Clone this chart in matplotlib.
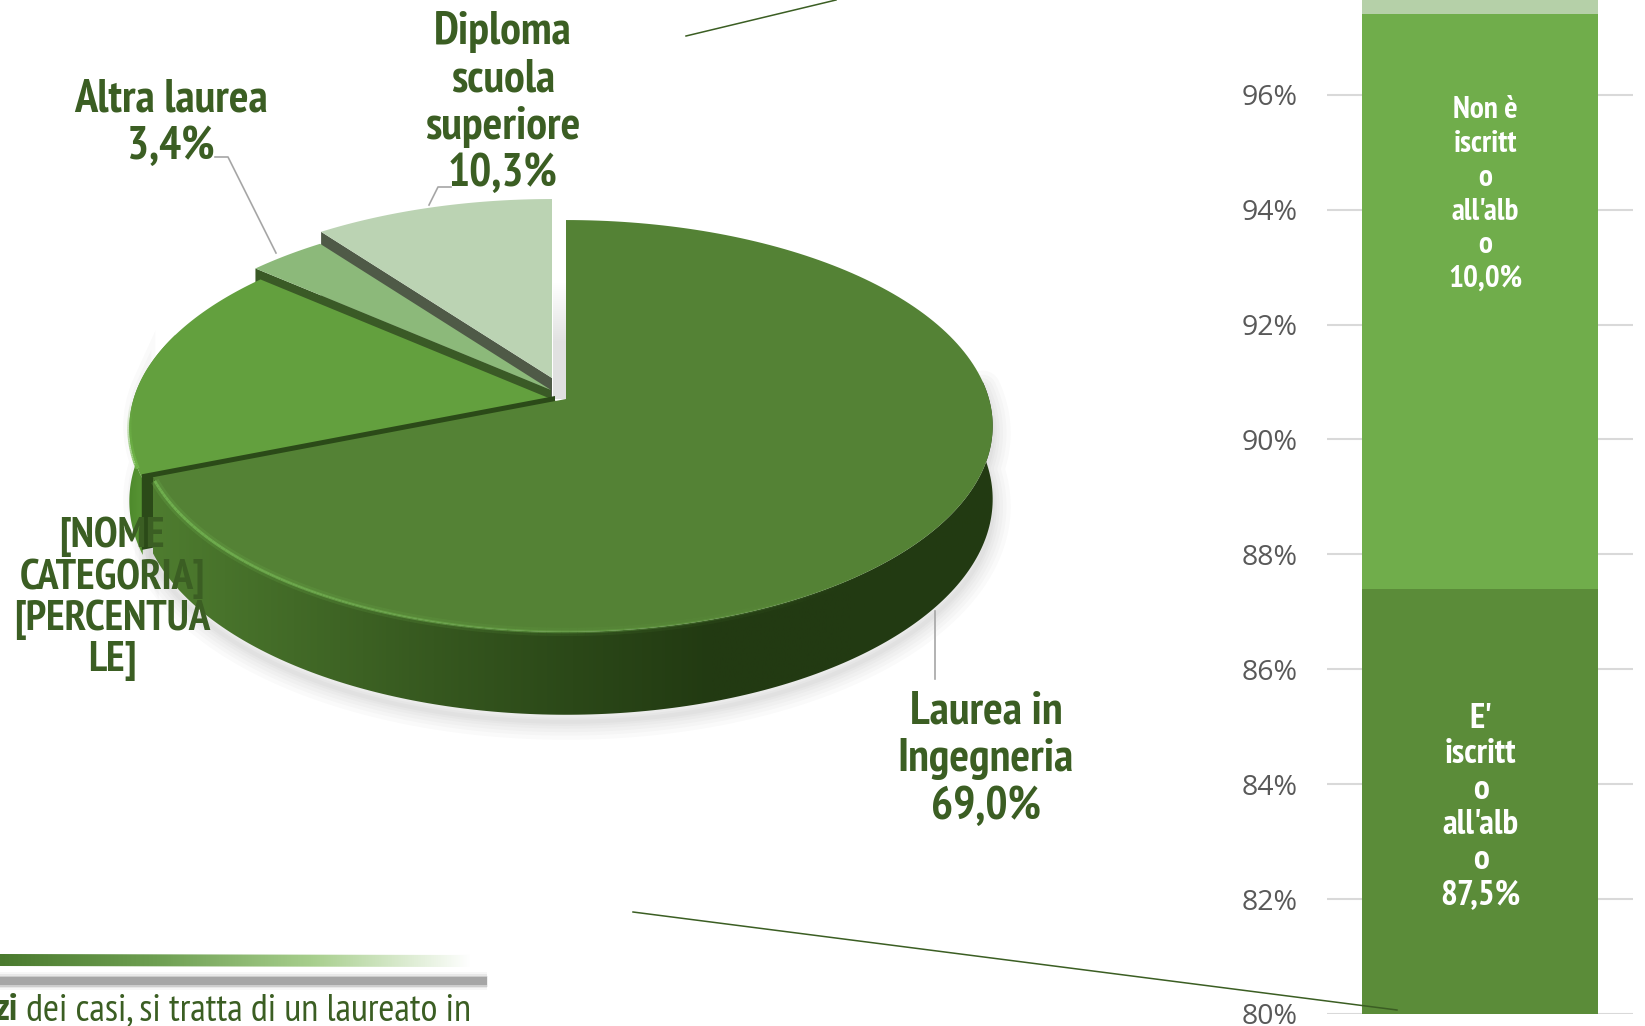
import numpy as np
import matplotlib
matplotlib.use('Agg')
import matplotlib.pyplot as plt
from matplotlib.colors import LinearSegmentedColormap
from matplotlib.patches import Polygon
from matplotlib.collections import LineCollection

# pie data, clockwise from 12 o'clock
pie_names = ['Laurea in\nIngegneria', '[NOME\nCATEGORIA]', 'Altra laurea', 'Diploma\nscuola\nsuperiore']
pie_values = [69.0, 17.3, 3.4, 10.3]
pie_colors = ['#548235', '#63A03E', '#8CB97A', '#BBD3B3']
face_colors = ['#548235', '#2B4A18', '#3A5A26', '#4F5A47']

# stacked bar data
bar_names = ["E' iscritto all'albo", "Non è iscritto all'albo", 'Altro']
bar_values = [87.4, 10.0, 2.6]
bar_colors = ['#5B8C39', '#70AD4B', '#B5D0A8']
y_ticks = [80, 82, 84, 86, 88, 90, 92, 94, 96]
y_labels = ['80%', '82%', '84%', '86%', '88%', '90%', '92%', '94%', '96%']

W, H = 1645, 1026
TXT = '#3B5E23'
NARROW = ['PT Sans Narrow', 'Liberation Sans']

# projection of the 3D pie, pixels
cx, cy = 566, 399
A, B, k = 423, 202.4, 0.131
DEPTH = 72
# explosion of each slice
offsets = [(0, 0), (-10, 2), (-15, -9), (-14, -21)]

fig = plt.figure(figsize=(W / 100, H / 100), dpi=100, facecolor='white')


def proj(theta, off=(0, 0), down=False):
    t = np.radians(theta)
    u, v = np.sin(t), np.cos(t)
    w = 1 + k * v
    x = cx + A * u / w + off[0]
    y = cy - B * v / w + off[1]
    if down:
        y = y + DEPTH / w
    return x, y


def top_poly(a0, a1, off):
    th = np.linspace(a0, a1, 200)
    x, y = proj(th, off)
    return np.column_stack([np.r_[cx + off[0], x], np.r_[cy + off[1], y]])


def side_poly(a0, a1, off):
    th = np.linspace(a0, a1, 200)
    x, y = proj(th, off)
    x2, y2 = proj(th[::-1], off, True)
    return np.column_stack([np.r_[x, x2], np.r_[y, y2]])


def face_poly(a, off):
    x, y = proj(a, off)
    x2, y2 = proj(a, off, True)
    ax0, ay0 = cx + off[0], cy + off[1]
    return np.array([[ax0, ay0], [x, y], [x2, y2], [ax0, ay0 + DEPTH]])


def grad_fill(ax, poly, cols, z, horizontal=True):
    cmap = LinearSegmentedColormap.from_list('g', cols)
    g = np.linspace(0, 1, 512)
    g = g.reshape(1, -1) if horizontal else g.reshape(-1, 1)
    ext = [poly[:, 0].min(), poly[:, 0].max(), poly[:, 1].max(), poly[:, 1].min()]
    im = ax.imshow(g, cmap=cmap, extent=ext, aspect='auto', zorder=z, origin='upper' if not horizontal else 'lower')
    p = Polygon(poly, transform=ax.transData, fc='none', ec='none')
    ax.add_patch(p)
    im.set_clip_path(p)


# bar chart
ax = fig.add_axes([1327 / W, 1 - 1014 / H, 306 / W, 1014 / H])
ax.set_zorder(1)
bottom = 0
for v, c in zip(bar_values, bar_colors):
    ax.bar(0, v, bottom=bottom, width=0.768, color=c, zorder=3)
    bottom += v
ax.set_xlim(-0.5, 0.5)
ax.set_ylim(80, 97.65)
ax.set_xticks([])
ax.set_yticks(y_ticks)
ax.set_yticklabels(y_labels, family='Open Sans', fontsize=20.5, color='#595959')
ax.tick_params(axis='y', length=0, pad=21)
ax.grid(axis='y', color='#D9D9D9', lw=1.5, zorder=0)
ax.set_axisbelow(True)
for s in ax.spines.values():
    s.set_visible(False)
ax.patch.set_alpha(0)
for lab in ax.get_yticklabels():
    lab.set_clip_on(False)
ax.text(0.017, 94.26, "Non è\niscritt\no\nall'alb\no\n10,0%", color='white', family=NARROW, weight='bold',
        fontsize=22.5, ha='center', va='center', linespacing=1.26, zorder=5, clip_on=False)
ax.text(0.002, 83.6, "E'\niscritt\no\nall'alb\no\n87,5%", color='white', family=NARROW, weight='bold',
        fontsize=25.5, ha='center', va='center', linespacing=1.13, zorder=5)

# everything else in pixel coordinates
pa = fig.add_axes([0, 0, 1, 1])
pa.set_zorder(2)
pa.patch.set_alpha(0)
pa.axis('off')

edges = np.r_[0, np.cumsum(pie_values)] * 3.6
a0s, a1s = edges[:-1], edges[1:]

# soft shadow under the pie
outline = side_poly(85, a1s[0], (0, 7))
for lw in [26, 20, 15, 10, 6, 3]:
    pa.add_patch(Polygon(outline, fc='none', ec='#000000', lw=lw, alpha=0.018, zorder=1, joinstyle='round'))
outline2 = side_poly(a0s[1], 275, (-5, 0))
for lw in [16, 10, 5]:
    pa.add_patch(Polygon(outline2, fc='none', ec='#000000', lw=lw, alpha=0.018, zorder=1))

# grey shadow next to the pale slice
strip = np.array([[553, 283], [567, 283], [567, 399], [553, 399]], float)
grad_fill(pa, strip, ['#FFFFFF', '#E2E2E2', '#E0E0E0'], 1.5, horizontal=False)

# slices back to front
pa.add_patch(Polygon(face_poly(a0s[3], offsets[3]), fc=face_colors[3], ec='none', zorder=2))
pa.add_patch(Polygon(top_poly(a0s[3], a1s[3], offsets[3]), fc=pie_colors[3], ec='none', zorder=3))
pa.add_patch(Polygon(face_poly(a0s[2], offsets[2]), fc=face_colors[2], ec='none', zorder=4))
pa.add_patch(Polygon(top_poly(a0s[2], a1s[2], offsets[2]), fc=pie_colors[2], ec='none', zorder=5))

grad_fill(pa, side_poly(a0s[1], 290, offsets[1]), ['#4E8A2C', '#5F9C3A', '#5F9C3A'], 6)
pa.add_patch(Polygon(top_poly(a0s[1], a1s[1], offsets[1]), fc=pie_colors[1], ec='none', zorder=7))
th = np.linspace(a0s[1] + 3, 270, 40)
xr, yr = proj(th, offsets[1])
segs = [[(xr[i], yr[i]), (xr[i + 1], yr[i + 1])] for i in range(len(th) - 1)]
pa.add_collection(LineCollection(segs, colors='#72B84A', lw=3, alpha=np.linspace(0.9, 0, len(segs)), zorder=7.5))
# dark cut face between the green slice and the main one
pa.add_patch(Polygon(face_poly(a0s[1], (-11, -3)), fc=face_colors[1], ec='none', zorder=7.6))

grad_fill(pa, side_poly(85, a1s[0], offsets[0]), ['#4E7C2F', '#426A27', '#36581F', '#2B4818', '#223A12', '#223A12', '#233B12'], 8)
pa.add_patch(Polygon(top_poly(a0s[0], a1s[0], offsets[0]), fc=pie_colors[0], ec='none', zorder=9))

# bevel highlight on the front rim of the main slice
th = np.linspace(a1s[0] - 1, 120, 140)
xr, yr = proj(th, (0, 0))
segs = [[(xr[i], yr[i]), (xr[i + 1], yr[i + 1])] for i in range(len(th) - 1)]
fade = np.clip(np.linspace(1.1, -0.2, len(segs)), 0, 1)
pa.add_collection(LineCollection(segs, colors='#6FAE4E', lw=2, alpha=fade, zorder=10))
pa.add_collection(LineCollection(segs, colors='#6FAE4E', lw=6, alpha=fade * 0.25, zorder=10))

# leader lines
pa.plot([215, 228, 276], [157, 157, 253], color='#A6A6A6', lw=1.2, zorder=11)
pa.plot([451, 438, 429], [187, 187, 205], color='#A6A6A6', lw=1.2, zorder=11)
pa.plot([935, 935], [611, 679], color='#A6A6A6', lw=1.2, zorder=11)

# zoom lines to the bar
pa.plot([686, 836], [36, 0], color='#3B5E23', lw=1.1, zorder=12)
pa.plot([633, 1397], [912, 1010], color='#3B5E23', lw=1.1, zorder=12)

# pie labels
lab_kw = dict(color=TXT, family=NARROW, weight='bold', ha='center', va='center', zorder=13)
pa.text(171, 123, pie_names[2] + '\n3,4%', fontsize=33.4, linespacing=1.17, **lab_kw)
pa.text(503, 103, pie_names[3] + '\n10,3%', fontsize=33.4, linespacing=1.17, **lab_kw)
pa.text(986, 759, pie_names[0] + '\n69,0%', fontsize=33.4, linespacing=1.17, **lab_kw)
pa.text(112, 599, pie_names[1] + '\n[PERCENTUA\nLE]', fontsize=31, linespacing=1.03, **lab_kw)

# decoration at the bottom
band = np.array([[0, 954], [471, 955], [471, 967], [0, 966]], float)
grad_fill(pa, band, ['#4A7A2E', '#6E9F52', '#A8CF8E', '#FFFFFF'], 3)
for lw, al in [(18, 0.06), (14, 0.12), (11, 0.25), (8, 0.5)]:
    pa.plot([-10, 487], [981, 981], color='#808080', lw=lw * 0.72, alpha=al, zorder=2, solid_capstyle='butt')

t = pa.text(471, 1011, ' dei casi, si tratta di un laureato in', color=TXT, family=NARROW, fontsize=28,
            ha='right', va='center', zorder=13)
pa.annotate('zi', xy=(0, 0.5), xycoords=t, color=TXT, family=NARROW, weight='bold', fontsize=28,
            ha='right', va='center', zorder=13)

pa.set_xlim(0, W)
pa.set_ylim(H, 0)

fig.savefig('out.png', dpi=100)
